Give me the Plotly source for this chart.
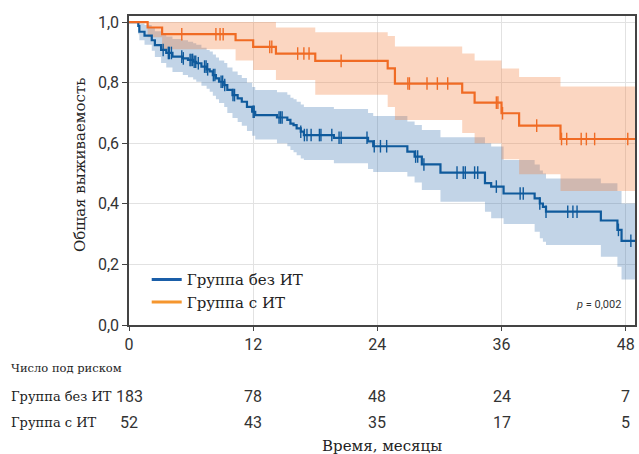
import numpy as np
import plotly.graph_objects as go

# ---------------- data ----------------
# Group without IT (Группа без ИТ)
no_it_t = [0, 0.9, 1.0, 1.5, 2.2, 2.5, 3.1, 3.6, 4.2, 5.2, 5.7, 6.2, 6.5, 7.0, 7.5, 7.8, 8.1, 8.4, 8.7,
           9.2, 9.5, 10.0, 10.5, 10.9, 11.4, 11.9, 12.2, 14.3, 15.3, 15.6, 15.9, 16.2, 16.6, 16.9, 19.8,
           23.1, 23.6, 26.9, 27.6, 28.3, 30.1, 34.4, 35.0, 36.2, 39.2, 39.7, 40.0, 40.3, 45.6, 47.2, 47.6]
no_it_s = [1.0, 0.987, 0.968, 0.955, 0.94, 0.924, 0.908, 0.898, 0.886, 0.88, 0.875, 0.869, 0.864, 0.853,
           0.844, 0.837, 0.825, 0.814, 0.803, 0.792, 0.776, 0.759, 0.748, 0.737, 0.72, 0.704, 0.693, 0.685,
           0.677, 0.665, 0.66, 0.649, 0.638, 0.627, 0.618, 0.606, 0.59, 0.572, 0.556, 0.53, 0.503, 0.468,
           0.457, 0.434, 0.418, 0.401, 0.39, 0.374, 0.345, 0.314, 0.278]
no_it_hi = [1.0, 1.0, 0.995, 0.99, 0.98, 0.97, 0.96, 0.952, 0.944, 0.94, 0.935, 0.93, 0.925, 0.915, 0.908,
            0.903, 0.893, 0.883, 0.873, 0.865, 0.85, 0.837, 0.825, 0.815, 0.8, 0.786, 0.776, 0.768, 0.76,
            0.75, 0.745, 0.737, 0.728, 0.72, 0.713, 0.7, 0.69, 0.672, 0.66, 0.644, 0.62, 0.6, 0.589, 0.545,
            0.53, 0.51, 0.5, 0.484, 0.468, 0.442, 0.401]
no_it_lo = [1.0, 0.96, 0.94, 0.925, 0.905, 0.885, 0.865, 0.85, 0.835, 0.825, 0.818, 0.81, 0.803, 0.79,
            0.78, 0.77, 0.757, 0.745, 0.733, 0.72, 0.7, 0.683, 0.67, 0.658, 0.64, 0.625, 0.612, 0.6, 0.59,
            0.578, 0.57, 0.56, 0.55, 0.545, 0.534, 0.515, 0.505, 0.49, 0.47, 0.446, 0.407, 0.374, 0.352,
            0.333, 0.308, 0.286, 0.275, 0.264, 0.225, 0.192, 0.15]
no_it_cens = [3.3, 3.8, 3.9, 4.1, 5.1, 5.25, 5.9, 6.0, 6.15, 6.3, 6.45, 6.7, 7.3, 7.45, 7.6, 8.15, 8.3,
              8.9, 9.05, 9.25, 10.05, 10.2, 12.0, 12.1, 14.5, 14.65, 14.8, 16.6, 16.95, 17.2, 17.6, 18.4,
              18.55, 19.6, 20.3, 20.5, 23.0, 23.7, 24.3, 24.9, 27.7, 27.9, 28.5, 31.7, 32.3, 32.5, 33.4,
              33.7, 35.5, 37.8, 38.1, 39.7, 40.3, 42.4, 42.9, 43.3, 47.3, 48.5]

# Group with IT (Группа с ИТ)
it_t = [0, 1.8, 3.2, 10.3, 12.0, 14.2, 18.0, 25.0, 25.7, 32.2, 33.4, 36.0, 37.7, 41.7]
it_s = [1.0, 0.982, 0.96, 0.94, 0.918, 0.896, 0.872, 0.847, 0.797, 0.767, 0.734, 0.699, 0.658, 0.614]
it_hi = [1.0, 1.0, 1.0, 1.0, 1.0, 0.982, 0.966, 0.954, 0.919, 0.896, 0.873, 0.847, 0.819, 0.787]
it_lo = [1.0, 0.95, 0.91, 0.873, 0.842, 0.809, 0.76, 0.72, 0.677, 0.634, 0.6, 0.547, 0.498, 0.442]
it_cens = [5.1, 8.4, 8.8, 9.1, 13.6, 13.8, 16.3, 16.9, 17.4, 20.5, 26.95, 27.1, 28.8, 29.8, 30.8, 35.5,
           35.65, 36.1, 39.4, 41.8, 42.3, 43.7, 44.2, 45.0, 48.2]

# risk table
risk_times = [0, 12, 24, 36, 48]
risk_no_it = [183, 78, 48, 24, 7]
risk_it = [52, 43, 35, 17, 5]

group_names = ["Группа без ИТ", "Группа с ИТ"]
x_ticks = [0, 12, 24, 36, 48]
y_ticks = [0.0, 0.2, 0.4, 0.6, 0.8, 1.0]
y_ticktext = ["0,0", "0,2", "0,4", "0,6", "0,8", "1,0"]
t_end = 48.9

# ---------------- styling ----------------
BLUE = "#0f5a9c"
ORANGE = "#f06b24"
BLUE_BAND = "rgba(31,95,165,0.27)"
ORANGE_BAND = "rgba(242,120,50,0.30)"
LEG_BLUE = "#1a5ea8"
LEG_ORANGE = "#f5962e"
SERIF = "DejaVu Serif, Liberation Serif, serif"
NARROW = "Roboto, sans-serif"


def ext(t, v):
    return list(t) + [t_end], list(v) + [v[-1]]


def step_at(t, s, c):
    idx = np.searchsorted(np.array(t), np.array(c), side="right") - 1
    return list(np.array(s)[idx])


fig = go.Figure()

for t, lo, hi, band in [(no_it_t, no_it_lo, no_it_hi, BLUE_BAND), (it_t, it_lo, it_hi, ORANGE_BAND)]:
    x, ylo = ext(t, lo)
    _, yhi = ext(t, hi)
    fig.add_trace(go.Scatter(x=x, y=ylo, mode="lines", line=dict(width=0, shape="hv"),
                             showlegend=False, hoverinfo="skip"))
    fig.add_trace(go.Scatter(x=x, y=yhi, mode="lines", line=dict(width=0, shape="hv"),
                             fill="tonexty", fillcolor=band, showlegend=False, hoverinfo="skip"))

for t, s, cens, col in [(no_it_t, no_it_s, no_it_cens, BLUE), (it_t, it_s, it_cens, ORANGE)]:
    x, y = ext(t, s)
    fig.add_trace(go.Scatter(x=x, y=y, mode="lines", line=dict(color=col, width=2.2, shape="hv"),
                             showlegend=False))
    fig.add_trace(go.Scatter(x=cens, y=step_at(t, s, cens), mode="markers",
                             marker=dict(symbol="line-ns", size=9, line=dict(color=col, width=1.4)),
                             showlegend=False))

# legend entries
for name, col in zip(group_names, [LEG_BLUE, LEG_ORANGE]):
    fig.add_trace(go.Scatter(x=[None], y=[None], mode="lines", name=name,
                             line=dict(color=col, width=3)))

ann = []
# risk table
ann.append(dict(text="Число под риском", x=-0.238, y=-0.139, xref="paper", yref="paper",
                xanchor="left", yanchor="middle", showarrow=False,
                font=dict(family=SERIF, size=11.5, color="#222")))
for row_y, name, vals in [(-0.23, group_names[0], risk_no_it), (-0.317, group_names[1], risk_it)]:
    ann.append(dict(text=name, x=-0.238, y=row_y, xref="paper", yref="paper", xanchor="left",
                    yanchor="middle", showarrow=False, font=dict(family=SERIF, size=13, color="#222")))
    for tx, v in zip(risk_times, vals):
        ann.append(dict(text=str(v), x=tx, y=row_y, xref="x", yref="paper", xanchor="center",
                        yanchor="middle", showarrow=False, font=dict(family=NARROW, size=16, color="#333")))
# axis titles
ann.append(dict(text="Время, месяцы", x=0.5, y=-0.39, xref="paper", yref="paper", xanchor="center",
                yanchor="middle", showarrow=False, font=dict(family=SERIF, size=15, color="#222")))
ann.append(dict(text="Общая выживаемость", x=-0.0965, y=0.518, xref="paper", yref="paper",
                xanchor="center", yanchor="middle", textangle=-90, showarrow=False,
                font=dict(family=SERIF, size=15, color="#222")))
ann.append(dict(text="<i>p</i> = 0,002", x=0.976, y=0.065, xref="paper", yref="paper", xanchor="right",
                yanchor="middle", showarrow=False, font=dict(family="Roboto, sans-serif", size=11, color="#333")))

fig.update_layout(
    width=639, height=454,
    margin=dict(l=129, r=2, t=16, b=129),
    paper_bgcolor="white", plot_bgcolor="white",
    showlegend=True,
    legend=dict(x=0.035, y=0.2, xanchor="left", yanchor="top", bgcolor="rgba(0,0,0,0)",
                traceorder="normal",
                font=dict(family=SERIF, size=15, color="#222"), tracegroupgap=2),
    annotations=ann,
)
fig.update_xaxes(range=[0, t_end], tickvals=x_ticks, ticktext=[str(v) for v in x_ticks],
                 showgrid=True, gridcolor="#e2e2e2", gridwidth=1, zeroline=False,
                 showline=True, linecolor="#444", linewidth=1.5, mirror=True,
                 ticks="outside", ticklen=4, tickcolor="#444",
                 tickfont=dict(family=NARROW, size=16, color="#333"))
fig.update_yaxes(range=[0, 1.02], tickvals=y_ticks, ticktext=y_ticktext,
                 showgrid=True, gridcolor="#e2e2e2", gridwidth=1, zeroline=False,
                 showline=True, linecolor="#444", linewidth=1.5, mirror=True,
                 ticks="outside", ticklen=5, tickcolor="#444",
                 tickfont=dict(family=NARROW, size=16, color="#333"))

fig.write_html("out.html", config={"displayModeBar": False},
               post_script="document.body.style.margin='0';")
